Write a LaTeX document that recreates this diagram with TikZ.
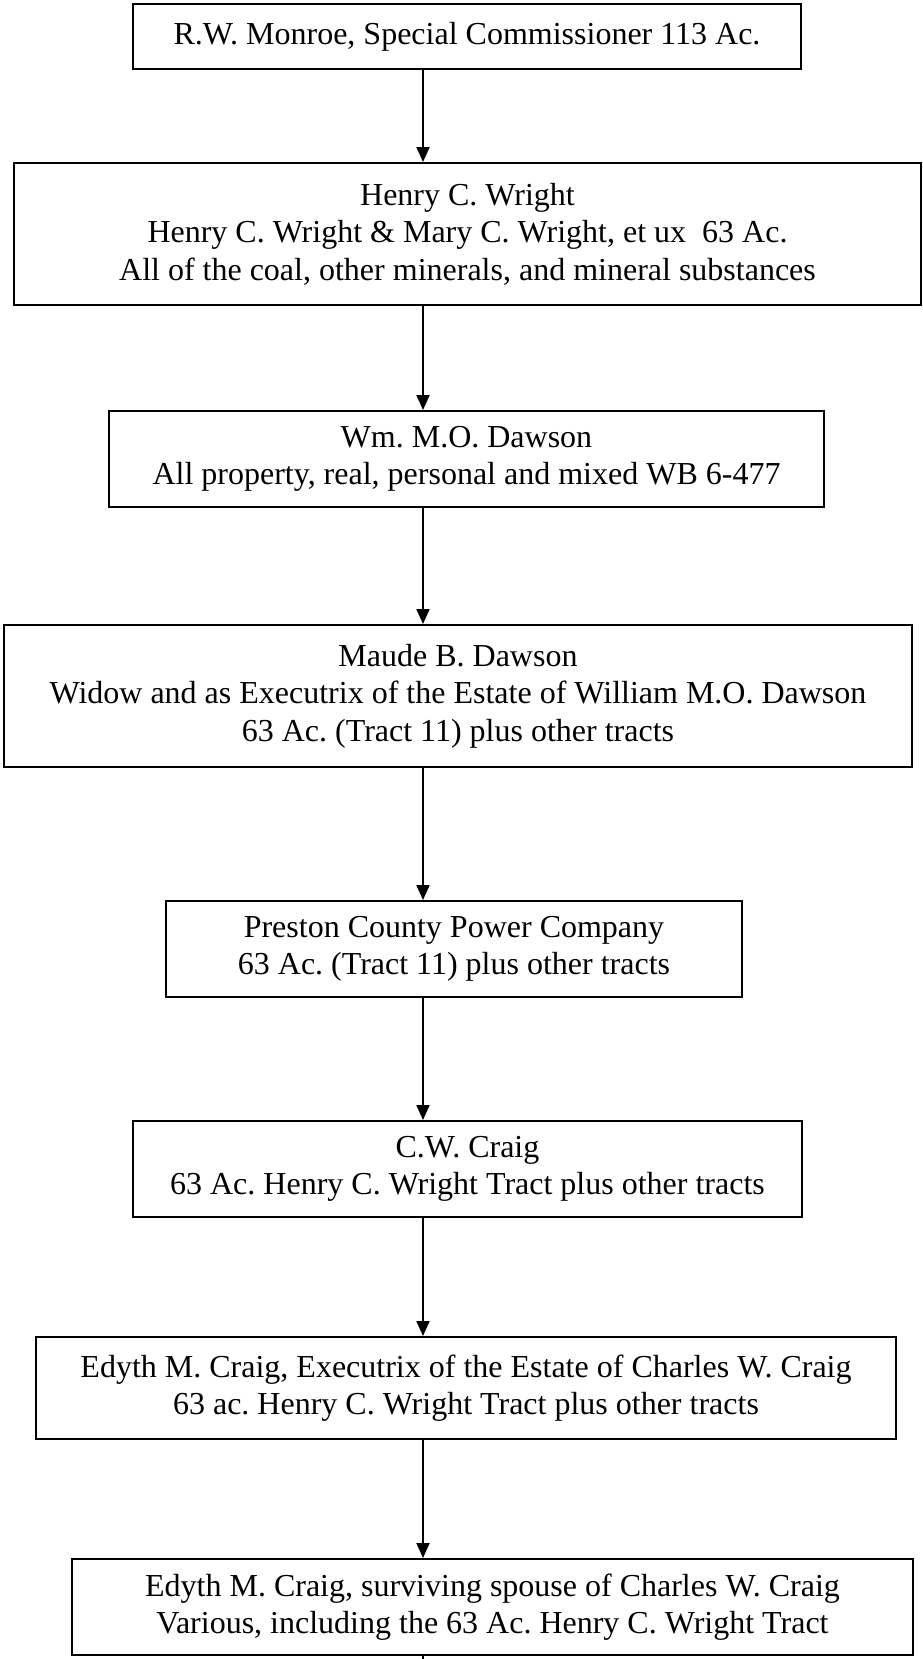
\documentclass[tikz,border=0pt]{standalone}
\usepackage{fontspec}
\setmainfont{Liberation Serif}
\usetikzlibrary{arrows.meta}
\frenchspacing
\begin{document}
\begin{tikzpicture}[x=1pt,y=-1pt,
  titlebox/.style={draw=black, line width=2pt, inner sep=0pt, align=center,
    font=\fontsize{32}{37.6}\selectfont},
  link/.style={line width=2pt, -{Triangle[length=15pt,width=13pt]}}]
\useasboundingbox (0,0) rectangle (922,1659);
% each box: centre, width, height
\node[titlebox, minimum width=668pt, minimum height=65pt] (b1) at (467,36.5)
  {R.W. Monroe, Special Commissioner 113 Ac.};
\node[titlebox, minimum width=907pt, minimum height=142pt] (b2) at (467.5,234)
  {Henry C. Wright\\Henry C. Wright \& Mary C. Wright, et ux\ \ 63 Ac.\\All of the coal, other minerals, and mineral substances};
\node[titlebox, minimum width=715pt, minimum height=96pt] (b3) at (466.5,459)
  {Wm. M.O. Dawson\\All property, real, personal and mixed WB 6-477};
\node[titlebox, minimum width=908pt, minimum height=142pt] (b4) at (458,696)
  {Maude B. Dawson\\Widow and as Executrix of the Estate of William M.O. Dawson\\63 Ac. (Tract 11) plus other tracts};
\node[titlebox, minimum width=576pt, minimum height=96pt] (b5) at (454,949)
  {Preston County Power Company\\63 Ac. (Tract 11) plus other tracts};
\node[titlebox, minimum width=669pt, minimum height=96pt] (b6) at (467.5,1169)
  {C.W. Craig\\63 Ac. Henry C. Wright Tract plus other tracts};
\node[titlebox, minimum width=860pt, minimum height=102pt] (b7) at (466,1388)
  {Edyth M. Craig, Executrix of the Estate of Charles W. Craig\\63 ac. Henry C. Wright Tract plus other tracts};
\node[titlebox, minimum width=841pt, minimum height=96pt] (b8) at (492.5,1607)
  {Edyth M. Craig, surviving spouse of Charles W. Craig\\Various, including the 63 Ac. Henry C. Wright Tract};
% the chain runs down one vertical line
\coordinate (ax) at (423,0);
\coordinate (tail) at (423,1659);
\foreach \a/\b in {b1/b2,b2/b3,b3/b4,b4/b5,b5/b6,b6/b7,b7/b8}
  \draw[link] (\a.south -| ax) -- (\b.north -| ax);
\draw[line width=2pt] (b8.south -| ax) -- (tail);
\end{tikzpicture}
\end{document}
